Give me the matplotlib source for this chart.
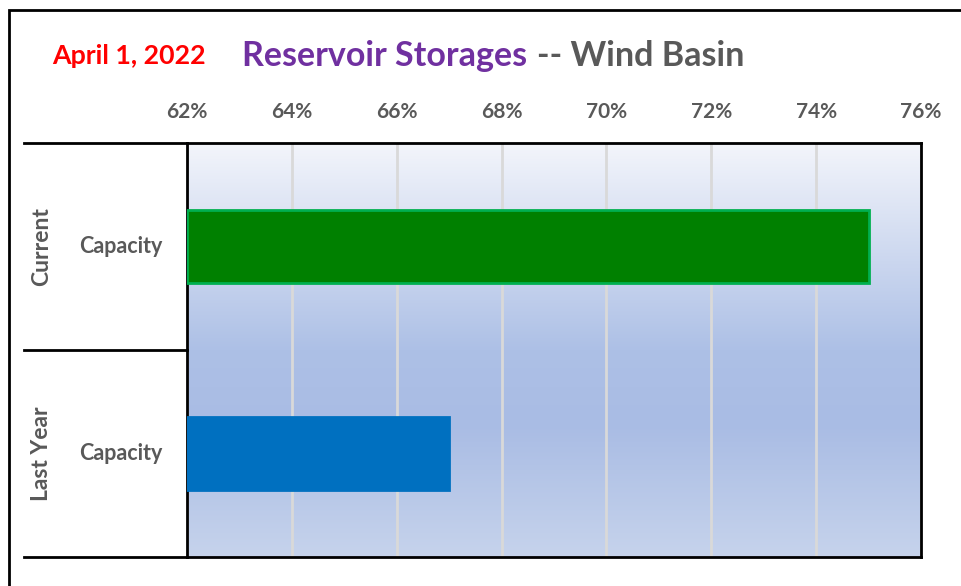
import numpy as np
import matplotlib
matplotlib.use("Agg")
import matplotlib.pyplot as plt
from matplotlib.patches import Rectangle
from matplotlib.colors import to_rgb

# data
groups = ["Current", "Last Year"]
labels = ["Capacity", "Capacity"]
values = [75.0, 67.0]
bar_colors = ["#008000", "#0070c0"]
edge_colors = ["#00b050", "#0070c0"]
xticks = [62, 64, 66, 68, 70, 72, 74, 76]

plt.rcParams['font.family'] = ['Lato', 'DejaVu Sans']
W, H = 961, 586
fig = plt.figure(figsize=(W / 100, H / 100), dpi=100)

L, R, T, B = 187, 921, 143, 557
ax = fig.add_axes([L / W, 1 - B / H, (R - L) / W, (B - T) / H])

# gradient background of the plot area
stops = [0.0, 0.5, 0.68, 1.0]
cols = [to_rgb("#f3f5fb"), to_rgb("#adc0e6"), to_rgb("#a9bce4"), to_rgb("#c6d3ec")]
t = np.linspace(0, 1, 256)
grad = np.zeros((256, 1, 3))
for k in range(3):
    grad[:, 0, k] = np.interp(t, stops, [c[k] for c in cols])
ax.imshow(grad, aspect="auto", extent=[0, 1, 0, 1], transform=ax.transAxes, zorder=-1)

ypos = np.arange(len(groups)) + 0.5
ax.barh(ypos, [v - xticks[0] for v in values], left=xticks[0], height=0.355,
        color=bar_colors, edgecolor=edge_colors, linewidth=2, zorder=3)

ax.set_xlim(xticks[0], xticks[-1])
ax.set_ylim(len(groups), 0)
ax.set_xticks(xticks)
ax.set_xticklabels([f"{x}%" for x in xticks])
ax.xaxis.tick_top()
ax.tick_params(axis="x", length=0, pad=15, labelsize=15, labelcolor="#595959")
for lab in ax.get_xticklabels():
    lab.set_fontweight("bold")
ax.set_yticks([])
ax.grid(axis="x", color="#d9d9d9", linewidth=2, zorder=1)
ax.set_axisbelow(True)
for s in ax.spines.values():
    s.set_color("black")
    s.set_linewidth(2)

# category labels on the left
lx = (24 - L) / (R - L)
for i, (g, lab) in enumerate(zip(groups, labels)):
    yc = 1 - (i + 0.5) / len(groups)
    ax.text((121 - L) / (R - L), yc, lab, transform=ax.transAxes, ha="center", va="center",
            fontsize=15.5, fontweight="bold", color="#595959")
    ax.text((42 - L) / (R - L), yc, g, transform=ax.transAxes, ha="center", va="center",
            rotation=90, fontsize=16.5, fontweight="bold", color="#595959")
for yy, x1 in [(1, 0), (0.5, 0), (0, 0)]:
    ax.plot([lx, x1], [yy, yy], transform=ax.transAxes, color="black", lw=2, clip_on=False)

# title pieces
fig.text(52 / W, 1 - 56 / H, "April 1, 2022", color="#ff0000", fontsize=19.3,
         fontweight="bold", ha="left", va="center")
fig.text(242 / W, 1 - 56 / H, "Reservoir Storages", color="#7030a0", fontsize=24.5,
         fontweight="bold", ha="left", va="center")
fig.text(537 / W, 1 - 56 / H, "-- Wind Basin", color="#595959", fontsize=24.5,
         fontweight="bold", ha="left", va="center")

# outer frame
fig.add_artist(Rectangle((9 / W, -0.1), 1.2, 1 - 10 / H + 0.1, transform=fig.transFigure,
                         fill=False, edgecolor="black", lw=2))

fig.savefig("out.png", dpi=100)
